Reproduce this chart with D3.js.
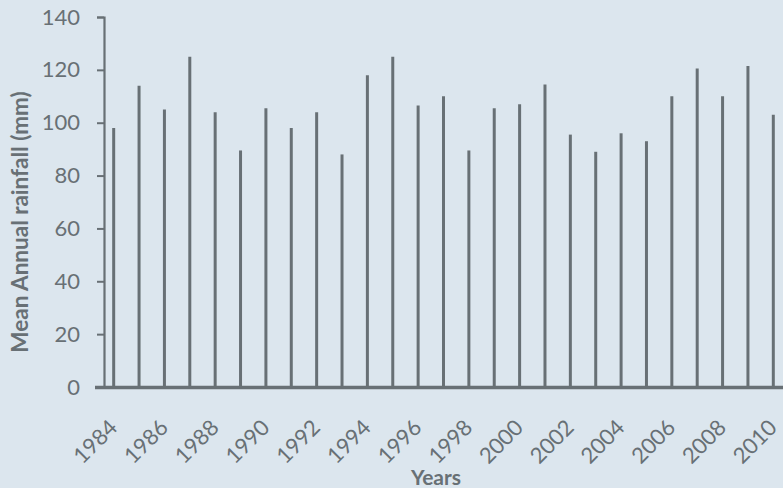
<!DOCTYPE html>
<html>
<head>
<meta charset="utf-8">
<script src="https://cdn.jsdelivr.net/npm/d3@7"></script>
<style>
  html, body { margin: 0; padding: 0; background: #dce6ee; }
  svg { display: block; }
</style>
</head>
<body>
<svg id="chart" width="783" height="488"></svg>
<script>
const years = [1984,1985,1986,1987,1988,1989,1990,1991,1992,1993,1994,1995,1996,1997,1998,1999,2000,2001,2002,2003,2004,2005,2006,2007,2008,2009,2010];
const rainfall = [98,114,105,125,104,89.5,105.5,98,104,88,118,125,106.5,110,89.5,105.5,107,114.5,95.5,89,96,93,110,120.5,110,121.5,103];
const yTicks = [0,20,40,60,80,100,120,140];
const xTickLabels = [1984,1986,1988,1990,1992,1994,1996,1998,2000,2002,2004,2006,2008,2010];

const ink = "#687075";
const svg = d3.select("#chart");
svg.append("rect").attr("width",783).attr("height",488).attr("fill","#dce6ee");

const x = d3.scaleBand().domain(years).range([101, 786]);
const y = d3.scaleLinear().domain([0,140]).range([387, 17]);

// y axis
const yAxis = d3.axisLeft(y).tickValues(yTicks).tickSize(7).tickPadding(17);
const gy = svg.append("g").attr("transform","translate(104,0)").call(yAxis);
gy.select(".domain").attr("stroke", ink).attr("stroke-width", 2.2);
gy.selectAll(".tick line").attr("stroke", ink).attr("stroke-width", 2);
gy.selectAll(".tick text").attr("fill", ink).attr("font-family","Lato, 'Open Sans', sans-serif").attr("font-size", 22);

// bars
svg.append("g").selectAll("line").data(years).join("line")
  .attr("x1", d => x(d) + x.bandwidth()/2)
  .attr("x2", d => x(d) + x.bandwidth()/2)
  .attr("y1", y(0))
  .attr("y2", (d,i) => y(rainfall[i]))
  .attr("stroke", ink).attr("stroke-width", 3);

// x axis line
svg.append("line").attr("x1", 95).attr("x2", 783).attr("y1", y(0)+0.5).attr("y2", y(0)+0.5)
  .attr("stroke", ink).attr("stroke-width", 3.5);

// x tick labels
svg.append("g").selectAll("text").data(xTickLabels).join("text")
  .attr("transform", d => `translate(${x(d) + x.bandwidth()/2 + 5},${y(0)+42}) rotate(-45)`)
  .attr("text-anchor","end")
  .attr("fill", ink)
  .attr("font-family","Lato, 'Open Sans', sans-serif")
  .attr("font-size", 22)
  .text(d => d);

// axis titles
svg.append("text")
  .attr("transform","translate(28,222) rotate(-90)")
  .attr("text-anchor","middle")
  .attr("fill", ink)
  .attr("font-family","Lato, 'Open Sans', sans-serif")
  .attr("font-weight","bold")
  .attr("font-size", 22.5)
  .text("Mean Annual rainfall (mm)");

svg.append("text")
  .attr("x", 436).attr("y", 485)
  .attr("text-anchor","middle")
  .attr("fill", ink)
  .attr("font-family","Lato, 'Open Sans', sans-serif")
  .attr("font-weight","bold")
  .attr("font-size", 21)
  .text("Years");
</script>
</body>
</html>
